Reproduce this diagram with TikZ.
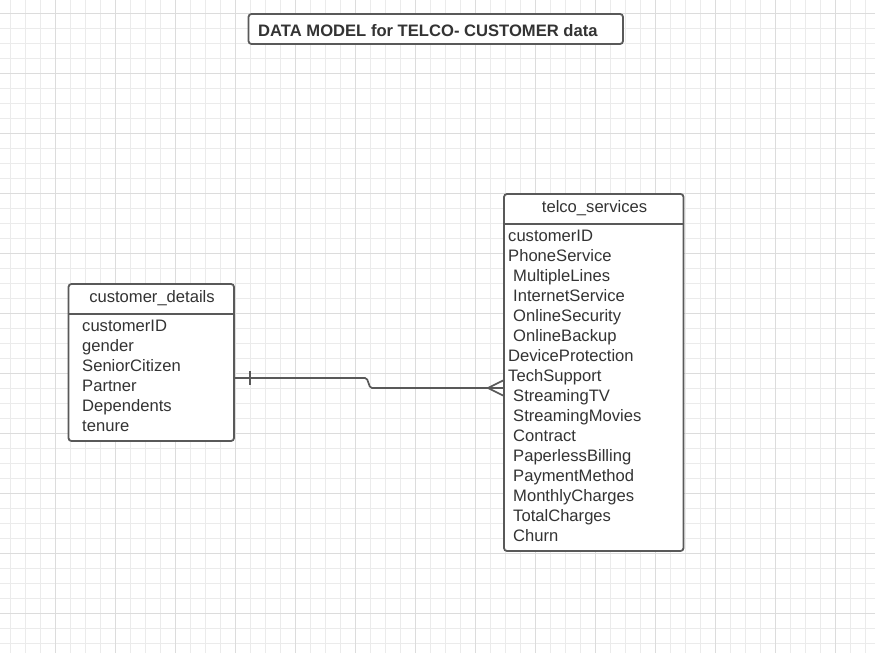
\documentclass[tikz,border=0pt]{standalone}
\usepackage{fontspec}
\setmainfont{Liberation Sans}
\definecolor{minorgrid}{HTML}{EBEBEB}
\definecolor{majorgrid}{HTML}{DCDCDC}
\definecolor{edgecol}{HTML}{595959}
\definecolor{txtcol}{HTML}{333333}
\tikzset{
  entitybox/.style={draw=edgecol, line width=1.8pt, rounded corners=3pt, fill=white, inner sep=0pt},
  rowtext/.style={anchor=base west, inner sep=0pt, text=txtcol, font=\fontsize{16.6}{16.6}\selectfont},
  headtext/.style={anchor=base, inner sep=0pt, text=txtcol, font=\fontsize{16.6}{16.6}\selectfont},
  conn/.style={draw=edgecol, line width=1.7pt},
}
\begin{document}
\begin{tikzpicture}[x=1pt,y=-1pt]
\useasboundingbox (0,0) rectangle (875,653);
\fill[white] (0,0) rectangle (875,653);
% grid
\foreach \gx in {10,25,...,875} \draw[minorgrid, line width=1pt] (\gx,0) -- (\gx,653);
\foreach \gy in {-2,13,...,653} \draw[minorgrid, line width=1pt] (0,\gy) -- (875,\gy);
\foreach \gx in {-5,55,...,875} \draw[majorgrid, line width=1pt] (\gx,0) -- (\gx,653);
\foreach \gy in {13,73,...,653} \draw[majorgrid, line width=1pt] (0,\gy) -- (875,\gy);

% title
\node[entitybox, minimum width=374.5pt, minimum height=30pt] (title) at (435.75,29) {};
\node[anchor=base west, inner sep=0pt, text=txtcol, font=\bfseries\fontsize{16.6}{16.6}\selectfont] (titletext) at (258,36) {DATA MODEL for TELCO- CUSTOMER data};

% customer_details
\node[entitybox, minimum width=165.5pt, minimum height=157pt] (cd) at (151.25,362.5) {};
\draw[edgecol, line width=1.8pt] (cd.west |- 0,314) -- (cd.east |- 0,314);
\node[headtext] (cdhead) at (152,302.5) {customer\_details};
\node[rowtext] (cd1) at (82,331.3) {customerID};
\node[rowtext] (cd2) at (82,351.3) {gender};
\node[rowtext] (cd3) at (82,371.3) {SeniorCitizen};
\node[rowtext] (cd4) at (82,391.3) {Partner};
\node[rowtext] (cd5) at (82,411.3) {Dependents};
\node[rowtext] (cd6) at (82,431.3) {tenure};

% telco_services
\node[entitybox, minimum width=179.5pt, minimum height=357pt] (ts) at (593.75,372.5) {};
\draw[edgecol, line width=1.8pt] (ts.west |- 0,224) -- (ts.east |- 0,224);
\node[headtext] (tshead) at (594.5,212.3) {telco\_services};
\node[rowtext] (t1) at (508,241.3) {customerID};
\node[rowtext] (t2) at (508,261.3) {PhoneService};
\node[rowtext] (t3) at (513,281.3) {MultipleLines};
\node[rowtext] (t4) at (513,301.3) {InternetService};
\node[rowtext] (t5) at (513,321.3) {OnlineSecurity};
\node[rowtext] (t6) at (513,341.3) {OnlineBackup};
\node[rowtext] (t7) at (508,361.3) {DeviceProtection};
\node[rowtext] (t8) at (508,381.3) {TechSupport};
\node[rowtext] (t9) at (513,401.3) {StreamingTV};
\node[rowtext] (t10) at (513,421.3) {StreamingMovies};
\node[rowtext] (t11) at (513,441.3) {Contract};
\node[rowtext] (t12) at (513,461.3) {PaperlessBilling};
\node[rowtext] (t13) at (513,481.3) {PaymentMethod};
\node[rowtext] (t14) at (513,501.3) {MonthlyCharges};
\node[rowtext] (t15) at (513,521.3) {TotalCharges};
\node[rowtext] (t16) at (513,541.3) {Churn};

% connector
\coordinate (hopa) at (365,378);
\coordinate (hopb) at (372,388);
\coordinate (crow) at (488,388);
\draw[conn] (cd.east |- 0,378) -- (hopa) .. controls (369,378) and (368,388) .. (hopb) -- (ts.west |- 0,388);
\draw[conn] (250,371) -- (250,385);
\draw[conn] (ts.west |- 0,380.5) -- (crow) -- (ts.west |- 0,395.5);
\end{tikzpicture}
\end{document}
